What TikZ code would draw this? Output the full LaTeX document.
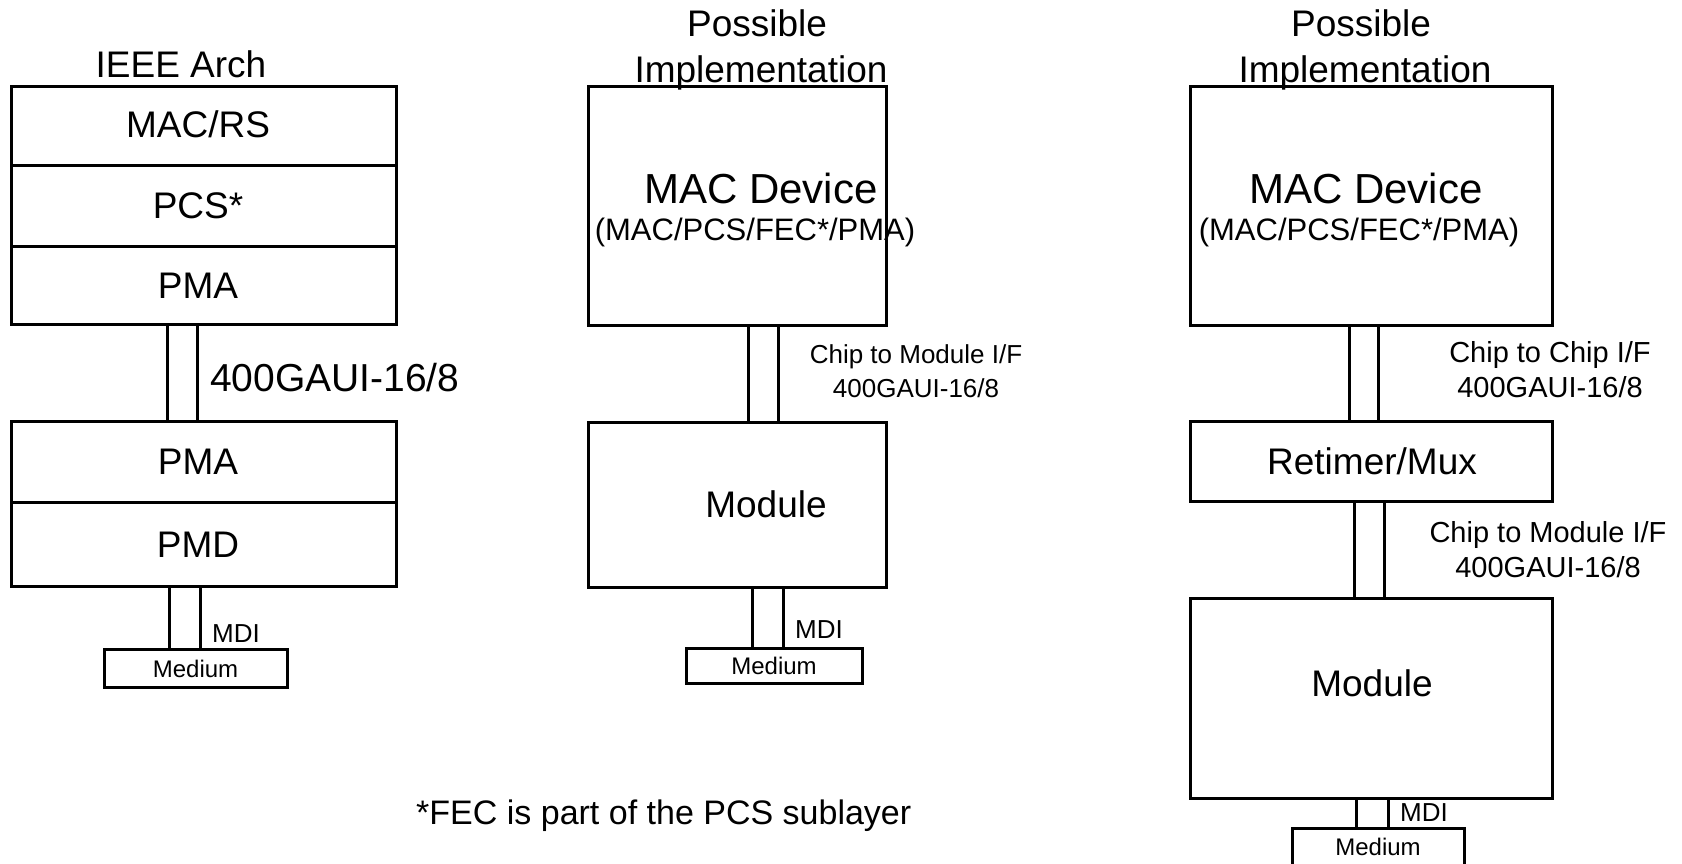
\documentclass[tikz,border=0pt]{standalone}
\usepackage{fontspec}
\setmainfont{Liberation Sans}
\begin{document}
\begin{tikzpicture}[x=1pt,y=-1pt,
  box/.style={draw=black,line width=3pt,line join=miter},
  wire/.style={draw=black,line width=3pt},
  big/.style={font=\fontsize{37}{40}\selectfont,inner sep=0pt,anchor=base},
  huge/.style={font=\fontsize{42}{46}\selectfont,inner sep=0pt,anchor=base},
  mid/.style={font=\fontsize{29}{34}\selectfont,inner sep=0pt,anchor=base,align=center},
  midb/.style={font=\fontsize{26}{30}\selectfont,inner sep=0pt,anchor=base,align=center},
  sub/.style={font=\fontsize{31}{33}\selectfont,inner sep=0pt,anchor=base},
  sml/.style={font=\fontsize{26}{30}\selectfont,inner sep=0pt,anchor=base west},
  tiny/.style={font=\fontsize{24}{28}\selectfont,inner sep=0pt}]
\useasboundingbox (0,0) rectangle (1682,863);
% ---------- left column ----------
\node[big] (ieee) at (181,77) {IEEE Arch};
\draw[box] (11,86) rectangle (396,324);
\draw[box] (11,165) -- (396,165);
\draw[box] (11,246) -- (396,246);
\node[big] (macrs) at (198,137) {MAC/RS};
\node[big] (pcs) at (198,218) {PCS*};
\node[big] (pma1) at (198,298) {PMA};
\draw[wire] (167,324) -- (167,421) (197,324) -- (197,421);
\node[font=\fontsize{39}{42}\selectfont,inner sep=0pt,anchor=base west] (gaui1) at (210,391) {400GAUI-16/8};
\draw[box] (11,421) rectangle (396,586);
\draw[box] (11,502) -- (396,502);
\node[big] (pma2) at (198,474) {PMA};
\node[big] (pmd) at (198,557) {PMD};
\draw[wire] (169,586) -- (169,649) (200,586) -- (200,649);
\node[sml] (mdi1) at (212,642) {MDI};
\draw[box] (104,649) rectangle (287,687);
\node[tiny] (med1) at (195.5,669) {Medium};
% ---------- middle column ----------
\node[big] (pos2) at (757,36) {Possible};
\node[big] (imp2) at (761,82) {Implementation};
\draw[box] (588,86) rectangle (886,325);
\node[huge] (mac2) at (761,203) {MAC Device};
\node[sub] (macsub2) at (755,240) {(MAC/PCS/FEC*/PMA)};
\draw[wire] (748,325) -- (748,422) (778,325) -- (778,422);
\node[midb] (c2m2) at (916,363) {Chip to Module I/F};
\node[midb] (g2) at (916,397) {400GAUI-16/8};
\draw[box] (588,422) rectangle (886,587);
\node[big] (mod2) at (766,517) {Module};
\draw[wire] (752,587) -- (752,648) (783,587) -- (783,648);
\node[sml] (mdi2) at (795,638) {MDI};
\draw[box] (686,648) rectangle (862,683);
\node[tiny] (med2) at (774,666) {Medium};
% ---------- right column ----------
\node[big] (pos3) at (1361,36) {Possible};
\node[big] (imp3) at (1365,82) {Implementation};
\draw[box] (1190,86) rectangle (1552,325);
\node[huge] (mac3) at (1366,203) {MAC Device};
\node[sub] (macsub3) at (1359,240) {(MAC/PCS/FEC*/PMA)};
\draw[wire] (1349,325) -- (1349,421) (1378,325) -- (1378,421);
\node[mid] (c2c3) at (1550,362) {Chip to Chip I/F};
\node[mid] (g3a) at (1550,397) {400GAUI-16/8};
\draw[box] (1190,421) rectangle (1552,501);
\node[big] (ret3) at (1372,474) {Retimer/Mux};
\draw[wire] (1354,501) -- (1354,598) (1384,501) -- (1384,598);
\node[mid] (c2m3) at (1548,542) {Chip to Module I/F};
\node[mid] (g3b) at (1548,577) {400GAUI-16/8};
\draw[box] (1190,598) rectangle (1552,798);
\node[big] (mod3) at (1372,696) {Module};
\draw[wire] (1356,798) -- (1356,828) (1388,798) -- (1388,828);
\node[sml] (mdi3) at (1400,821) {MDI};
\draw[box] (1292,828) rectangle (1464,872);
\node[tiny,anchor=base] (med3) at (1378,855) {Medium};
% ---------- footnote ----------
\node[font=\fontsize{34}{38}\selectfont,inner sep=0pt,anchor=base west] (foot) at (416,824) {*FEC is part of the PCS sublayer};
\end{tikzpicture}
\end{document}
